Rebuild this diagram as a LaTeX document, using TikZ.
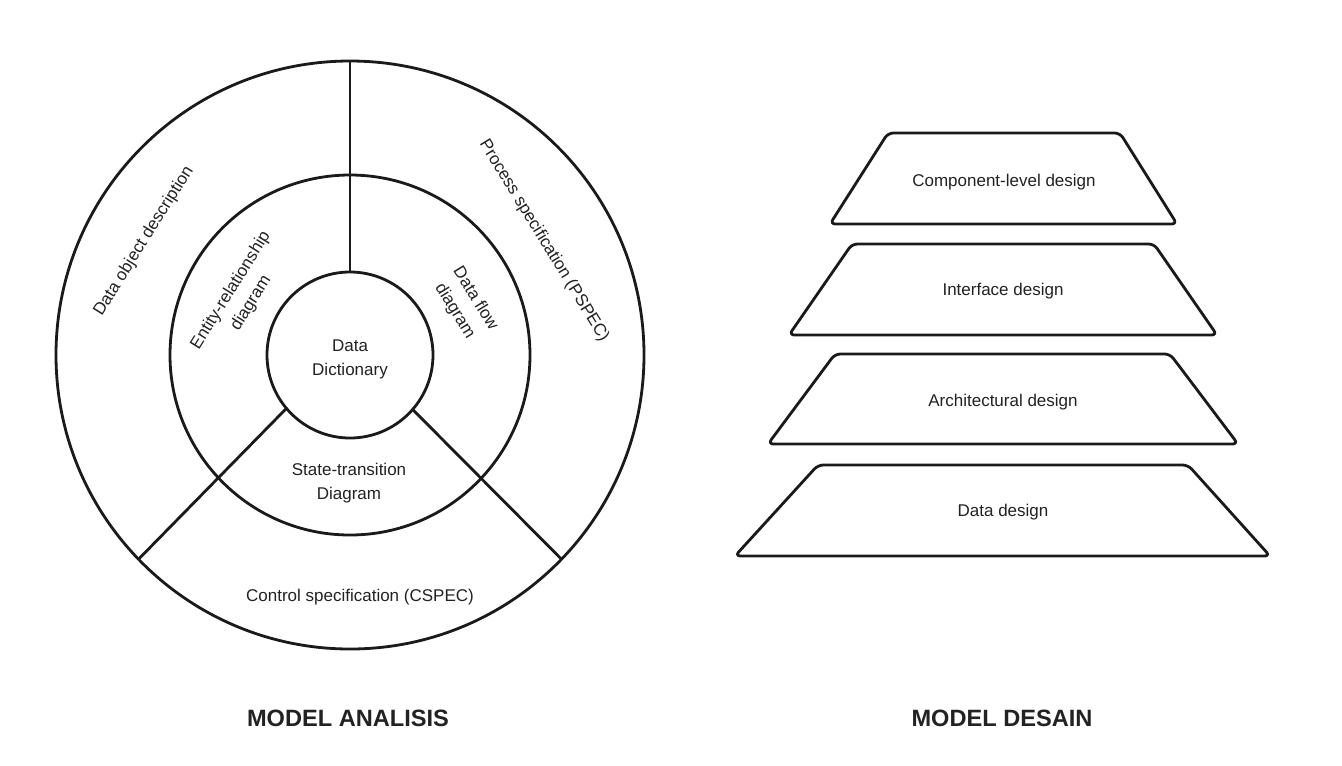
\documentclass[tikz,border=0pt]{standalone}
\usepackage{fontspec}
\setmainfont{Liberation Sans}
\definecolor{linecol}{HTML}{1A1A1A}
\definecolor{txtcol}{HTML}{222222}
\begin{document}
\begin{tikzpicture}[x=0.75pt,y=-0.75pt]
\tikzset{
 ring/.style={circle, draw=linecol, line width=2.1pt, outer sep=0pt, inner sep=0pt},
 seg/.style={draw=linecol, line width=2.1pt},
 lbl/.style={text=txtcol, font=\fontsize{12.75}{18}\selectfont, align=center, inner sep=0pt},
 ttl/.style={text=txtcol, font=\fontsize{17.7}{20}\selectfont\bfseries, inner sep=0pt},
 trapline/.style={draw=linecol, line width=2.1pt, rounded corners=4pt, line join=round},
}
\useasboundingbox (0,0) rectangle (1342,765);
\fill[white] (0,0) rectangle (1342,765);

% --- analysis model ---
\node[ring, minimum size=441pt] (outer) at (350,355) {};
\node[ring, minimum size=270pt] (middle) at (350,355) {};
\node[ring, minimum size=124.5pt] (inner) at (350,355) {};
\draw[seg] (inner.90) -- (outer.90);
\draw[seg] (inner.220) -- (outer.224);
\draw[seg] (inner.319) -- (outer.316);

\node[lbl] (dd) at (350,359) {Data\\Dictionary};
\node[lbl] (std) at (349,483) {State-transition\\Diagram};
\node[lbl] (cspec) at (360,597) {Control specification (CSPEC)};
\node[lbl, rotate=58] (dod) at (144,241) {Data object description};
\node[lbl, rotate=58] (erd) at (241,297) {Entity-relationship\\diagram};
\node[lbl, rotate=-58.5] (pspec) at (544,241) {Process specification (PSPEC)};
\node[lbl, rotate=-58.5] (dfd) at (465,305) {Data flow\\diagram};

\node[ttl] (ma) at (348,718) {MODEL ANALISIS};

% --- design model ---
\draw[trapline] (888,133) -- (1120,133) -- (1177,224) -- (830,224) -- cycle;
\node[lbl] (cld) at (1004,182) {Component-level design};
\draw[trapline] (852,244) -- (1154,244) -- (1217,335) -- (789,335) -- cycle;
\node[lbl] (ifd) at (1003,291) {Interface design};
\draw[trapline] (835,354) -- (1170,354) -- (1238,444) -- (768,444) -- cycle;
\node[lbl] (ard) at (1003,402) {Architectural design};
\draw[trapline] (818,465) -- (1188,465) -- (1270,556) -- (735,556) -- cycle;
\node[lbl] (dad) at (1003,512) {Data design};

\node[ttl] (md) at (1002,718) {MODEL DESAIN};
\end{tikzpicture}
\end{document}
